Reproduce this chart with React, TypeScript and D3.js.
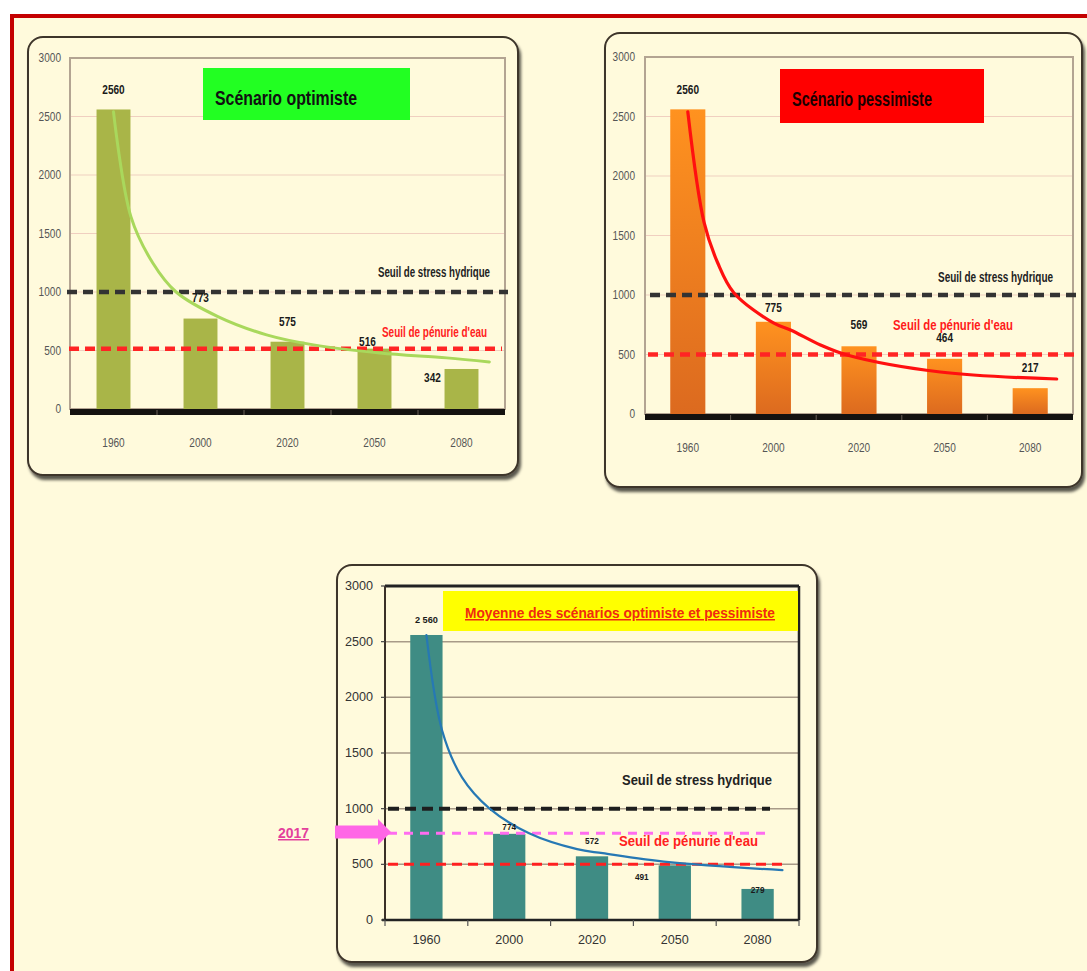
import React from "react";
import * as d3 from "d3";

// ---------- DATA ----------
const years = ["1960", "2000", "2020", "2050", "2080"];
const yTicks = [0, 500, 1000, 1500, 2000, 2500, 3000];

const optimisteValues = [2560, 773, 575, 516, 342];
const optimisteLabels = ["2560", "773", "575", "516", "342"];
const optimisteTrendIdx = [0, 0.2, 0.45, 0.72, 1.2, 1.76, 2.3, 3.06, 3.83, 4.32];
const optimisteTrendVal = [2540, 1644, 1250, 1000, 790, 634, 548, 479, 437, 402];

const pessimisteValues = [2560, 775, 569, 464, 217];
const pessimisteLabels = ["2560", "775", "569", "464", "217"];
const pessimisteTrendIdx = [0, 0.19, 0.35, 0.54, 1.0, 1.2, 1.55, 1.86, 2.95, 4.31];
const pessimisteTrendVal = [2540, 1610, 1269, 1017, 765, 706, 580, 496, 353, 294];

const moyenneValues = [2560, 774, 572, 491, 279];
const moyenneLabels = ["2 560", "774", "572", "491", "279"];
const moyenneTrendIdx = [0, 0.19, 0.43, 0.76, 1.24, 1.82, 2.13, 2.93, 4.3];
const moyenneTrendVal = [2560, 1701, 1281, 1003, 779, 636, 600, 519, 448];

const seuilStress = 1000;
const seuilPenurieOptimiste = 515;
const seuilPenurie = 500;
const niveau2017 = 780;

const titreOptimiste = "Scénario optimiste";
const titrePessimiste = "Scénario pessimiste";
const titreMoyenne = "Moyenne des scénarios optimiste et pessimiste";
const texteStress = "Seuil de stress hydrique";
const textePenurie = "Seuil de pénurie d'eau";
const textePenurieMoy = "Seuil de  pénurie d'eau";
const texte2017 = "2017";

// ---------- HELPERS ----------
const FONT = "'Liberation Sans', Arial, sans-serif";
const CREAM = "#fffadc";

function T(props: any) {
  const { x, y, len, size, fill, weight, anchor, children, underline, baseline } = props;
  return (
    <text
      x={x}
      y={y}
      fontSize={size}
      fill={fill}
      fontWeight={weight || "normal"}
      textAnchor={anchor || "start"}
      dominantBaseline={baseline}
      textLength={len}
      lengthAdjust={len ? "spacingAndGlyphs" : undefined}
      fontFamily={FONT}
      textDecoration={underline ? "underline" : undefined}
    >
      {children}
    </text>
  );
}

function Panel(p: any) {
  const { box, plot, pad } = p;
  const x = d3
    .scaleBand()
    .domain(years)
    .range([plot.l, plot.r])
    .paddingInner(pad)
    .paddingOuter(pad / 2);
  const xi = d3.scaleLinear().domain([-0.5, years.length - 0.5]).range([plot.l, plot.r]);
  const y = d3.scaleLinear().domain([0, 3000]).range([plot.b, plot.t]);
  const trendPts: [number, number][] = p.trendIdx.map((d: number, i: number) => [d, p.trendVal[i]]);
  const line = d3
    .line<[number, number]>()
    .x((d) => xi(d[0]))
    .y((d) => y(d[1]))
    .curve(d3.curveCatmullRom.alpha(0.5));
  const step = x.step();
  const isBottom = p.variant === "bottom";

  return (
    <g>
      {/* panel box */}
      <rect
        x={box.x}
        y={box.y}
        width={box.w}
        height={box.h}
        rx={15}
        fill={CREAM}
        stroke="#3e352b"
        strokeWidth={2}
        filter="url(#shadow)"
      />
      {/* grid */}
      {yTicks
        .filter((t) => t > 0 && t < 3000)
        .map((t) => (
          <line
            key={"g" + t}
            x1={plot.l}
            x2={plot.r}
            y1={y(t)}
            y2={y(t)}
            stroke={isBottom ? "#a89a88" : "#f0cfc0"}
            strokeWidth={isBottom ? 1.5 : 1.2}
          />
        ))}
      {/* plot frame */}
      {isBottom ? (
        <g>
          <line x1={plot.l} x2={plot.r} y1={plot.t} y2={plot.t} stroke="#222" strokeWidth={3} />
          <line x1={plot.r} x2={plot.r} y1={plot.t} y2={plot.b} stroke="#222" strokeWidth={2.5} />
          <line x1={plot.l} x2={plot.l} y1={plot.t} y2={plot.b} stroke="#3a3028" strokeWidth={2} />
        </g>
      ) : (
        <rect
          x={plot.l}
          y={plot.t}
          width={plot.r - plot.l}
          height={plot.b - plot.t}
          fill="none"
          stroke="#b3a492"
          strokeWidth={2}
        />
      )}
      {/* title box */}
      <rect x={p.title.x} y={p.title.y} width={p.title.w} height={p.title.h} fill={p.title.fill} />
      <T
        x={p.title.tx}
        y={p.title.ty}
        size={p.title.size}
        weight="bold"
        fill={p.title.color}
        len={p.title.len}
        underline={p.title.underline}
      >
        {p.title.text}
      </T>
      {/* bars */}
      {p.values.map((v: number, i: number) => (
        <rect
          key={"b" + i}
          x={x(years[i])}
          y={y(v)}
          width={x.bandwidth()}
          height={y(0) - y(v)}
          fill={p.barFill}
        />
      ))}
      {/* baseline */}
      {isBottom ? (
        <g>
          <line x1={plot.l - 3} x2={plot.r} y1={y(0)} y2={y(0)} stroke="#222" strokeWidth={2.5} />
          {d3.range(years.length + 1).map((k) => (
            <line
              key={"xt" + k}
              x1={plot.l + k * step}
              x2={plot.l + k * step}
              y1={y(0)}
              y2={y(0) + 6}
              stroke="#555"
              strokeWidth={1.2}
            />
          ))}
          {yTicks.map((t) => (
            <line key={"yt" + t} x1={plot.l - 4} x2={plot.l} y1={y(t)} y2={y(t)} stroke="#444" strokeWidth={1.2} />
          ))}
        </g>
      ) : (
        <g>
          <rect x={plot.l} y={y(0)} width={plot.r - plot.l} height={6} fill="#141210" />
          {d3.range(1, years.length).map((k) => (
            <line
              key={"xs" + k}
              x1={plot.l + k * step}
              x2={plot.l + k * step}
              y1={y(0) + 1}
              y2={y(0) + 6}
              stroke="#6a6058"
              strokeWidth={1}
            />
          ))}
        </g>
      )}
      {/* y tick labels */}
      {yTicks.map((t) => (
        <T
          key={"yl" + t}
          x={p.yLabelX}
          y={y(t)}
          baseline="central"
          anchor="end"
          size={p.tickSize}
          fill={p.tickColor}
          len={String(t).length * p.tickCharW}
        >
          {String(t)}
        </T>
      ))}
      {/* x tick labels */}
      {years.map((yr) => (
        <T
          key={"xl" + yr}
          x={(x(yr) as number) + x.bandwidth() / 2}
          y={p.xLabelY}
          baseline="central"
          anchor="middle"
          size={p.tickSize}
          fill={p.tickColor}
          len={yr.length * p.tickCharW}
        >
          {yr}
        </T>
      ))}
      {/* dashed thresholds */}
      {p.dashes.map((d: any, i: number) => (
        <line
          key={"d" + i}
          x1={d.x1}
          x2={d.x2}
          y1={y(d.value)}
          y2={y(d.value)}
          stroke={d.color}
          strokeWidth={d.width}
          strokeDasharray={d.dash}
        />
      ))}
      {/* trend */}
      <path d={line(trendPts) || ""} fill="none" stroke={p.trendColor} strokeWidth={p.trendWidth} strokeLinecap="round" />
      {/* threshold labels */}
      {p.texts.map((t: any, i: number) => (
        <T key={"tx" + i} x={t.x} y={t.y} size={t.size} fill={t.color} weight={t.weight} len={t.len}>
          {t.text}
        </T>
      ))}
      {/* value labels */}
      {p.values.map((v: number, i: number) => (
        <T
          key={"v" + i}
          x={(x(years[i]) as number) + x.bandwidth() / 2 + p.labelOff[i][0]}
          y={y(v) + p.labelOff[i][1]}
          baseline="central"
          anchor="middle"
          size={p.valueSize}
          weight="bold"
          fill="#1a1a1a"
          len={p.labels[i].length * p.valueCharW}
        >
          {p.labels[i]}
        </T>
      ))}
    </g>
  );
}

export default function App() {
  return (
    <svg
      width={1087}
      height={971}
      style={{ position: "absolute", left: 0, top: 0, background: "#ffffff" }}
    >
      <defs>
        <filter id="shadow" x="-5%" y="-5%" width="110%" height="115%">
          <feDropShadow dx="2" dy="4" stdDeviation="1.8" floodColor="#000" floodOpacity="0.65" />
        </filter>
        <linearGradient id="orangeGrad" x1="0" y1="0" x2="0" y2="1">
          <stop offset="0%" stopColor="#ff921f" />
          <stop offset="100%" stopColor="#dc6a1f" />
        </linearGradient>
      </defs>
      <rect x={12} y={16} width={1100} height={1000} fill={CREAM} stroke="#c40000" strokeWidth={4} />

      {/* Scénario optimiste */}
      <Panel
        variant="top"
        box={{ x: 28, y: 37, w: 490, h: 438 }}
        plot={{ l: 70, t: 58, r: 505, b: 409 }}
        pad={0.61}
        values={optimisteValues}
        labels={optimisteLabels}
        labelOff={[[0, -19], [0, -21], [0, -20], [-7, -7], [-29, 9]]}
        trendIdx={optimisteTrendIdx}
        trendVal={optimisteTrendVal}
        barFill="#a9b548"
        trendColor="#a9d85c"
        trendWidth={3}
        tickSize={12}
        tickCharW={5.6}
        tickColor="#555"
        yLabelX={61}
        xLabelY={443}
        valueSize={12}
        valueCharW={5.6}
        title={{
          x: 203, y: 68, w: 207, h: 52, fill: "#22ff22",
          tx: 215, ty: 105, size: 20, len: 142, color: "#111", text: titreOptimiste,
        }}
        dashes={[
          { value: seuilStress, x1: 67, x2: 508, color: "#333", width: 4.5, dash: "10 6" },
          { value: seuilPenurieOptimiste, x1: 69, x2: 502, color: "#ff2424", width: 4.5, dash: "10 6" },
        ]}
        texts={[
          { x: 378, y: 277, size: 14, color: "#222", weight: "bold", len: 112, text: texteStress },
          { x: 382, y: 337, size: 14, color: "#ff2020", weight: "bold", len: 105, text: textePenurie },
        ]}
      />

      {/* Scénario pessimiste */}
      <Panel
        variant="top"
        box={{ x: 605, y: 33, w: 477, h: 454 }}
        plot={{ l: 645, t: 57, r: 1073, b: 414 }}
        pad={0.59}
        values={pessimisteValues}
        labels={pessimisteLabels}
        labelOff={[[0, -19], [0, -14], [0, -21], [0, -21], [0, -20]]}
        trendIdx={pessimisteTrendIdx}
        trendVal={pessimisteTrendVal}
        barFill="url(#orangeGrad)"
        trendColor="#ff1010"
        trendWidth={3.2}
        tickSize={12}
        tickCharW={5.6}
        tickColor="#555"
        yLabelX={635}
        xLabelY={448}
        valueSize={12}
        valueCharW={5.6}
        title={{
          x: 780, y: 69, w: 204, h: 54, fill: "#ff0000",
          tx: 792, ty: 106, size: 20, len: 140, color: "#1a0000", text: titrePessimiste,
        }}
        dashes={[
          { value: seuilStress, x1: 650, x2: 1080, color: "#333", width: 4.5, dash: "10 6" },
          { value: seuilPenurie, x1: 648, x2: 1078, color: "#ff2424", width: 4.5, dash: "10 6" },
        ]}
        texts={[
          { x: 938, y: 282, size: 14, color: "#222", weight: "bold", len: 115, text: texteStress },
          { x: 893, y: 330, size: 14, color: "#ff1a1a", weight: "bold", len: 120, text: textePenurie },
        ]}
      />

      {/* Moyenne */}
      <Panel
        variant="bottom"
        box={{ x: 337, y: 565, w: 480, h: 397 }}
        plot={{ l: 385, t: 586, r: 799, b: 920 }}
        pad={0.61}
        values={moyenneValues}
        labels={moyenneLabels}
        labelOff={[[0, -15], [0, -7], [0, -15], [-33, 12], [0, 1]]}
        trendIdx={moyenneTrendIdx}
        trendVal={moyenneTrendVal}
        barFill="#3f8c84"
        trendColor="#2678b4"
        trendWidth={2.2}
        tickSize={12.5}
        tickCharW={7}
        tickColor="#333"
        yLabelX={373}
        xLabelY={940}
        valueSize={9}
        valueCharW={4.6}
        title={{
          x: 443, y: 591, w: 355, h: 40, fill: "#ffff00",
          tx: 465, ty: 618, size: 15, len: 310, color: "#f02a10", text: titreMoyenne, underline: true,
        }}
        dashes={[
          { value: seuilStress, x1: 388, x2: 770, color: "#1e1e1e", width: 4, dash: "11 6" },
          { value: niveau2017, x1: 388, x2: 770, color: "#ff6cf0", width: 3, dash: "9 7" },
          { value: seuilPenurie, x1: 388, x2: 787, color: "#ff2020", width: 3, dash: "10 6" },
        ]}
        texts={[
          { x: 622, y: 785, size: 15, color: "#222", weight: "bold", len: 150, text: texteStress },
          { x: 619, y: 846, size: 14.5, color: "#ff2020", weight: "bold", len: 139, text: textePenurieMoy },
        ]}
      />

      {/* 2017 arrow */}
      <polygon
        points="335,825.5 378,825.5 378,819 391,832 378,845 378,838.5 335,838.5"
        fill="#ff66e6"
      />
      <T x={278} y={838} size={15} fill="#e3409c" weight="bold" len={31} underline>
        {texte2017}
      </T>
    </svg>
  );
}
